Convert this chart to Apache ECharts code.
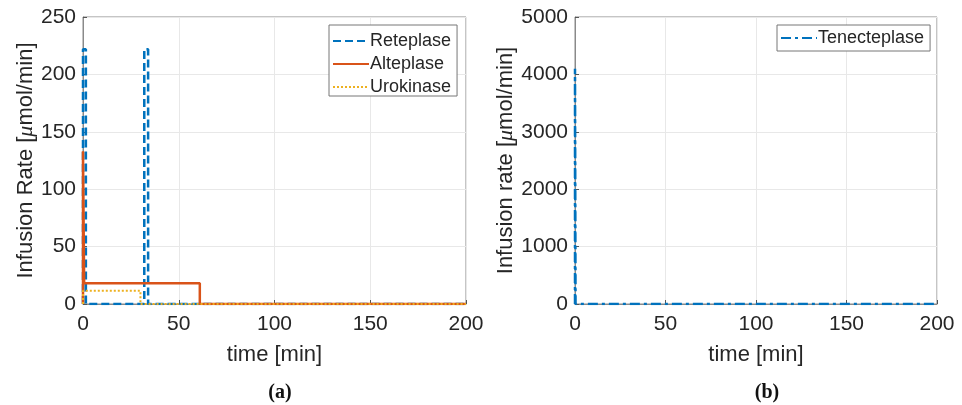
<!DOCTYPE html>
<html>
<head>
<meta charset="utf-8">
<script src="https://cdn.jsdelivr.net/npm/echarts@6/dist/echarts.min.js"></script>
<style>
  html, body { margin: 0; padding: 0; background: #fff; }
  #chart { width: 962px; height: 405px; }
</style>
</head>
<body>
<div id="chart"></div>
<script>
// step profiles (time in min, rate in umol/min)
var reteTime = [0, 0, 1.5, 1.5, 32, 32, 34, 34, 200];
var reteRate = [0, 222, 222, 0, 0, 222, 222, 0, 0];
var altTime = [0, 0, 0.6, 0.6, 61, 61, 200];
var altRate = [0, 133, 133, 18, 18, 0, 0];
var uroTime = [0, 0, 30, 30, 200];
var uroRate = [0, 11.5, 11.5, 0, 0];
var tncTime = [0, 0, 0.3, 0.3, 200];
var tncRate = [0, 4100, 4100, 0, 0];

var xTicks = [0, 50, 100, 150, 200];
var yTicksA = [0, 50, 100, 150, 200, 250];
var yTicksB = [0, 1000, 2000, 3000, 4000, 5000];

function pairs(t, v) {
  return t.map(function (x, i) { return [x, v[i]]; });
}

var txt = '#262626';
var font = 'Liberation Sans';

function xAx(idx) {
  return {
    type: 'value', gridIndex: idx, min: xTicks[0], max: xTicks[xTicks.length - 1],
    interval: xTicks[1] - xTicks[0],
    name: 'time [min]', nameLocation: 'middle', nameGap: 51,
    nameTextStyle: { color: txt, fontSize: 22, fontFamily: font, verticalAlign: 'middle' },
    axisLine: { show: true, lineStyle: { color: '#8a8a8a', width: 1 } },
    axisTick: { show: true, inside: true, length: 4, lineStyle: { color: '#555' } },
    axisLabel: { color: txt, fontSize: 21, fontFamily: font, margin: 10,
      formatter: function (v) { return String(v); } },
    splitLine: { show: true, lineStyle: { color: '#e8e8e8', width: 1 } }
  };
}

function yAx(idx, ticks, title, gap) {
  return {
    type: 'value', gridIndex: idx, min: ticks[0], max: ticks[ticks.length - 1],
    interval: ticks[1] - ticks[0],
    name: title, nameLocation: 'middle', nameGap: gap,
    nameTextStyle: {
      color: txt, fontSize: 22, fontFamily: font, verticalAlign: 'middle',
      rich: { i: { fontStyle: 'italic', fontSize: 22, fontFamily: 'Liberation Serif', color: txt } }
    },
    axisLine: { show: true, lineStyle: { color: '#8a8a8a', width: 1 } },
    axisTick: { show: true, inside: true, length: 4, lineStyle: { color: '#555' } },
    axisLabel: { color: txt, fontSize: 21, fontFamily: font, margin: 7,
      formatter: function (v) { return String(v); } },
    splitLine: { show: true, lineStyle: { color: '#e8e8e8', width: 1 } }
  };
}

var legendBase = {
  orient: 'vertical',
  itemWidth: 36, itemHeight: 10, itemGap: 5,
  padding: [7, 6, 0, 3],
  borderColor: '#777', borderWidth: 1, backgroundColor: '#fff',
  itemStyle: { color: 'rgba(0,0,0,0)', borderWidth: 0, opacity: 0 },
  textStyle: { color: txt, fontSize: 18, fontFamily: font, padding: [0, 0, 0, -4] }
};

var chart = echarts.init(document.getElementById('chart'));
var option = {
  animation: false,
  backgroundColor: '#fff',
  title: [
    { text: '(a)', left: 275, top: 378, textAlign: 'center',
      textStyle: { fontFamily: 'Liberation Serif', fontWeight: 'bold', fontSize: 20, color: '#111' } },
    { text: '(b)', left: 762, top: 378, textAlign: 'center',
      textStyle: { fontFamily: 'Liberation Serif', fontWeight: 'bold', fontSize: 20, color: '#111' } }
  ],
  grid: [
    { left: 83, right: 496, top: 17, bottom: 101, show: true, borderColor: '#8a8a8a', borderWidth: 1 },
    { left: 575, right: 25, top: 17, bottom: 101, show: true, borderColor: '#8a8a8a', borderWidth: 1 }
  ],
  legend: [
    Object.assign({}, legendBase, {
      data: ['Reteplase', 'Alteplase', 'Urokinase'], left: 329, top: 25
    }),
    Object.assign({}, legendBase, {
      data: ['Tenecteplase'], left: 777, top: 25, padding: [4, 6, 4, 3]
    })
  ],
  xAxis: [xAx(0), xAx(1)],
  yAxis: [
    yAx(0, yTicksA, 'Infusion Rate [{i|μ}mol/min]', 57),
    yAx(1, yTicksB, 'Infusion rate [{i|μ}mol/min]', 64)
  ],
  series: [
    {
      name: 'Reteplase', type: 'line', xAxisIndex: 0, yAxisIndex: 0,
      data: pairs(reteTime, reteRate), symbol: 'none', color: '#0072BD',
      lineStyle: { color: '#0072BD', width: 2.5, type: [8, 4] }, z: 3
    },
    {
      name: 'Alteplase', type: 'line', xAxisIndex: 0, yAxisIndex: 0,
      data: pairs(altTime, altRate), symbol: 'none', color: '#D95319',
      lineStyle: { color: '#D95319', width: 2.5, type: 'solid' }, z: 4
    },
    {
      name: 'Urokinase', type: 'line', xAxisIndex: 0, yAxisIndex: 0,
      data: pairs(uroTime, uroRate), symbol: 'none', color: '#EDB120',
      lineStyle: { color: '#EDB120', width: 2, type: [2, 2] }, z: 5
    },
    {
      name: 'Tenecteplase', type: 'line', xAxisIndex: 1, yAxisIndex: 1,
      data: pairs(tncTime, tncRate), symbol: 'none', color: '#0072BD',
      lineStyle: { color: '#0072BD', width: 2.5, type: [10, 4, 3, 4] }, z: 3
    }
  ]
};
chart.setOption(option);
window.addEventListener('resize', function () { chart.resize(); });
</script>
</body>
</html>
